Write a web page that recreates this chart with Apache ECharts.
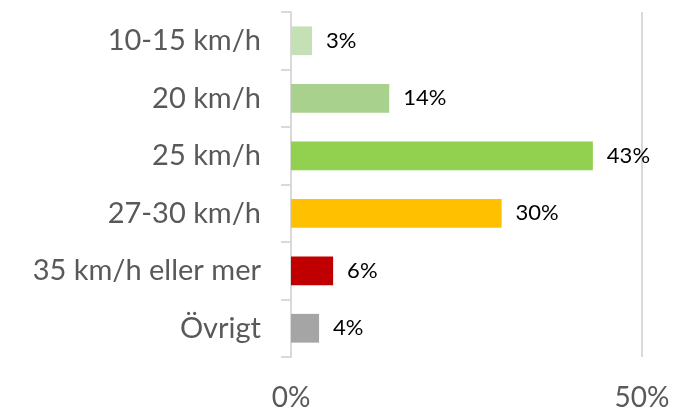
<!DOCTYPE html>
<html>
<head>
<meta charset="utf-8">
<script src="https://cdn.jsdelivr.net/npm/echarts@6/dist/echarts.min.js"></script>
<style>
  html, body { margin: 0; padding: 0; background: #fff; }
  #chart { width: 697px; height: 412px; }
</style>
</head>
<body>
<div id="chart"></div>
<script>
// Share of riders by top speed
const categories = ['10-15 km/h', '20 km/h', '25 km/h', '27-30 km/h', '35 km/h eller mer', 'Övrigt'];
const shares = [3, 14, 43, 30, 6, 4];
const barColors = ['#c5e0b4', '#a9d18e', '#92d050', '#ffc000', '#c00000', '#a5a5a5'];
const xTicks = [0, 50];

const font = 'Lato, "Open Sans", sans-serif';
const chart = echarts.init(document.getElementById('chart'));

chart.setOption({
  animation: false,
  grid: { left: 291, right: 55, top: 12, bottom: 53, containLabel: false },
  xAxis: {
    type: 'value',
    min: xTicks[0],
    max: xTicks[xTicks.length - 1],
    interval: xTicks[1] - xTicks[0],
    axisLine: { show: false },
    axisTick: { show: false },
    splitLine: { show: true, lineStyle: { color: '#d9d9d9', width: 2 } },
    axisLabel: {
      formatter: v => v + '%',
      color: '#595959',
      fontFamily: font,
      fontSize: 28,
      margin: 27
    }
  },
  yAxis: {
    type: 'category',
    inverse: true,
    data: categories,
    axisLine: { show: true, lineStyle: { color: '#d9d9d9', width: 2 } },
    axisTick: { show: true, length: 10, lineStyle: { color: '#d9d9d9', width: 2 } },
    axisLabel: {
      color: '#595959',
      fontFamily: font,
      fontSize: 29,
      margin: 30
    }
  },
  series: [{
    type: 'bar',
    data: shares.map((v, i) => ({ value: v, itemStyle: { color: barColors[i] } })),
    barCategoryGap: '50%',
    label: {
      show: true,
      position: 'right',
      distance: 14,
      formatter: p => p.value + '%',
      color: '#000',
      fontFamily: font,
      fontSize: 22
    }
  }]
});
</script>
</body>
</html>
